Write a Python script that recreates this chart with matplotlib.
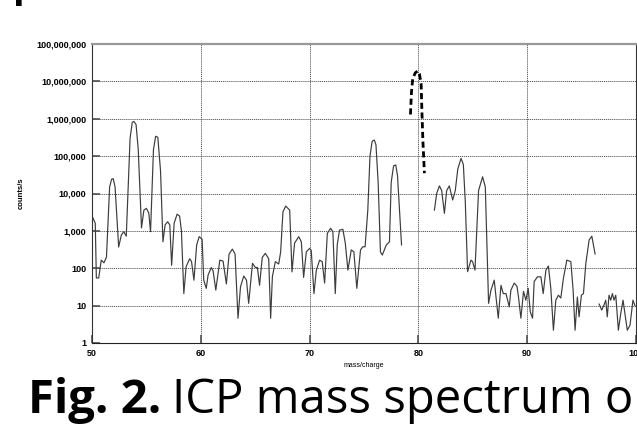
import numpy as np
import matplotlib.pyplot as plt
from matplotlib.ticker import FuncFormatter

# spectrum, split where the trace has gaps
mass_a = [50.03, 50.30, 50.40, 50.62, 50.85, 51.10, 51.33, 51.62, 51.80, 51.95, 52.12, 52.45,
          52.70, 52.92, 53.15, 53.50, 53.70, 53.85, 54.05, 54.25, 54.55, 54.77, 55.00, 55.22,
          55.38, 55.65, 55.85, 56.05, 56.30, 56.52, 56.72, 56.95, 57.15, 57.32, 57.55, 57.82,
          58.05, 58.22, 58.44, 58.65, 58.98, 59.15, 59.37, 59.62, 59.85, 60.12, 60.27, 60.50,
          60.67, 60.97, 61.13, 61.38, 61.75, 62.05, 62.35, 62.60, 62.90, 63.15, 63.42, 63.65,
          63.95, 64.20, 64.40, 64.75, 65.02, 65.20, 65.40, 65.65, 65.93, 66.24, 66.42, 66.58,
          66.85, 67.16, 67.34, 67.55, 67.80, 68.17, 68.38, 68.62, 69.00, 69.24, 69.45, 69.70,
          70.00, 70.15, 70.40, 70.62, 70.92, 71.16, 71.38, 71.63, 71.93, 72.14, 72.36, 72.54,
          72.75, 73.06, 73.28, 73.52, 73.83, 74.07, 74.34, 74.68, 74.89, 75.10, 75.35, 75.55,
          75.75, 75.95, 76.10, 76.30, 76.51, 76.68, 77.05, 77.34, 77.50, 77.72, 77.92, 78.08,
          78.45]
counts_a = [2400, 1600, 55, 55, 165, 140, 200, 15000, 24000, 25000, 15000, 370,
            780, 950, 720, 300000, 800000, 850000, 700000, 150000, 1200, 3600, 4000, 3000,
            950, 150000, 340000, 320000, 40000, 510, 1450, 1750, 1450, 120, 1600, 2800,
            2500, 1000, 21, 110, 180, 150, 48, 420, 700, 600, 48, 29,
            66, 105, 85, 26, 165, 155, 38, 240, 325, 240, 4.6, 32,
            62, 48, 11.5, 135, 105, 105, 35, 195, 250, 180, 4.6, 60,
            150, 130, 275, 3200, 4600, 3600, 80, 470, 700, 510, 57, 275,
            340, 300, 21, 89, 165, 150, 40, 860, 1170, 950, 21, 420,
            1050, 1100, 470, 89, 310, 275, 29, 310, 375, 375, 3600, 100000,
            250000, 270000, 200000, 20000, 275, 225, 420, 510, 20000, 55000, 58000, 30000,
            420]

mass_peak = [79.27, 79.36, 79.48, 79.72, 79.94, 80.09, 80.25, 80.32, 80.41, 80.55]
counts_peak = [1.3e6, 5e6, 1.2e7, 1.7e7, 1.9e7, 1.6e7, 8.7e6, 1.7e6, 2.7e5, 3.5e4]

mass_b = [81.47, 81.68, 81.93, 82.14, 82.39, 82.60, 82.84, 83.15, 83.39, 83.62, 83.92, 84.13,
          84.31, 84.52, 84.83, 84.98, 85.20, 85.53, 85.90, 86.15, 86.45, 86.67, 86.97, 87.34,
          87.59, 87.80, 88.05, 88.35, 88.50, 88.81, 89.06, 89.20, 89.42, 89.66, 89.88, 90.09,
          90.28, 90.49, 90.64, 90.94, 91.26, 91.47, 91.72, 91.95, 92.17, 92.41, 92.63, 92.87,
          93.09, 93.33, 93.64, 94.01, 94.22, 94.40, 94.61, 94.77, 94.98, 95.17, 95.39, 95.69,
          95.94, 96.24]
counts_b = [3600, 10000, 16000, 12000, 2950, 12000, 16000, 6700, 12000, 45000, 87000, 60000,
            6000, 81, 165, 150, 89, 12000, 28000, 15000, 11.5, 26, 48, 4.6,
            35, 21, 21, 9.3, 26, 40, 33, 17, 4.6, 24, 14, 29,
            6.9, 4.6, 44, 59, 59, 21, 89, 115, 29, 2.2, 14, 19,
            16, 54, 165, 150, 26, 2.2, 17, 5, 19, 21, 135, 570,
            720, 240]

mass_c = [96.61, 96.85, 97.06, 97.22, 97.36, 97.52, 97.68, 97.83, 97.98, 98.14, 98.29, 98.38,
          98.60, 98.81, 99.00, 99.20, 99.45, 99.72, 99.90]
counts_c = [11, 7.6, 10.4, 14, 5, 19, 14, 21, 14, 19, 5, 2.2,
            6.2, 14, 5.6, 2.2, 3, 14, 10]

fig = plt.figure(figsize=(6.37, 4.25), dpi=100)
ax = fig.add_axes([92 / 637, 82 / 425, 544 / 637, 299 / 425])

line_kw = dict(color='#3c3c3c', lw=0.85)
ax.plot(mass_a, counts_a, **line_kw)
ax.plot(mass_b, counts_b, **line_kw)
ax.plot(mass_c, counts_c, **line_kw)
ax.plot(mass_peak, counts_peak, color='black', lw=2.0, ls=(0, (2.2, 1.3)))

ax.set_yscale('log')
ax.set_xlim(50, 100)
ax.set_ylim(1, 1e8)
ax.set_xticks(np.arange(50, 101, 10))
ax.set_yticks(10.0 ** np.arange(0, 9))
ax.minorticks_off()
ax.yaxis.set_major_formatter(FuncFormatter(lambda v, p: f'{v:,.0f}'))
ax.xaxis.set_major_formatter(FuncFormatter(lambda v, p: f'{v:.0f}'))

ax.grid(True, color='#606060', ls=(0, (1.2, 0.8)), lw=0.7)
ax.tick_params(direction='in', length=6, width=1.2, color='#505050', pad=4)
for lab in ax.get_xticklabels() + ax.get_yticklabels():
    lab.set_fontfamily('Liberation Sans')
    lab.set_fontweight('bold')
    lab.set_fontsize(6.5)

ax.spines['top'].set_color('#999999')
ax.spines['top'].set_linewidth(1.6)
ax.spines['left'].set_color('#333333')
ax.spines['bottom'].set_color('#222222')
ax.spines['right'].set_color('#333333')
ax.spines['right'].set_linewidth(0.8)

ax.set_xlabel('mass/charge', fontfamily='Liberation Sans', fontsize=5, labelpad=3)
ax.set_ylabel('counts/s', fontfamily='Liberation Sans', fontsize=5.5,
              fontweight='bold', labelpad=8)

# caption under the chart, cut by the right edge
renderer = fig.canvas.get_renderer()
fs = 34
t1 = fig.text(28 / 637, 12 / 425, 'Fig. 2.', fontfamily='Open Sans', fontweight='bold',
              fontsize=fs, va='baseline', ha='left')
bb = t1.get_window_extent(renderer)
fig.text(bb.x1 / 637 + 11 / 637, 12 / 425, 'ICP mass spectrum o', fontfamily='Open Sans',
         fontsize=fs, va='baseline', ha='left')

# fragments of the heading cut off at the top edge
fig.text(13 / 637, 1 + 3 / 425, 'p', fontfamily='Open Sans', fontweight='bold',
         fontsize=28, va='baseline', ha='left')
fig.text(405 / 637, 1 + 6 / 425, '( )', fontfamily='Open Sans', fontweight='bold',
         fontsize=22, va='baseline', ha='left')

fig.savefig('out.png', dpi=100)
